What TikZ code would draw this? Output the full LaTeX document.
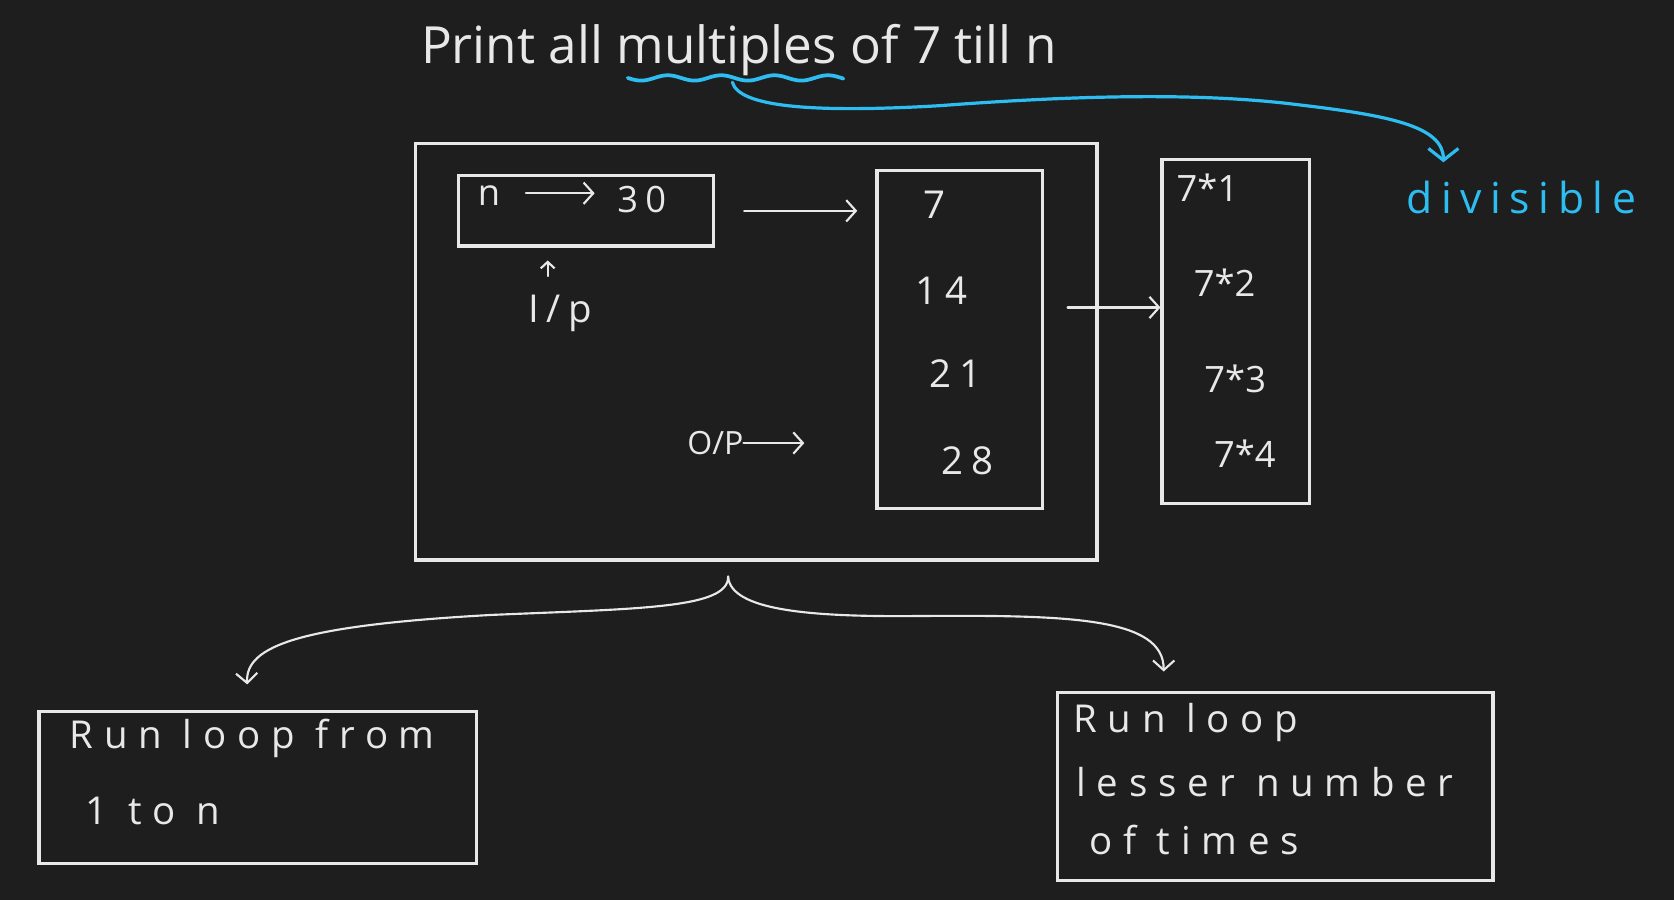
\documentclass[tikz,border=0pt]{standalone}
\usepackage{fontspec}
\setmainfont{Open Sans}
\newfontfamily\hand[LetterSpace=20]{Open Sans}
\newfontfamily\handw[LetterSpace=28]{Open Sans}
\usetikzlibrary{arrows.meta,calc}
\definecolor{bg}{HTML}{1E1E1E}
\definecolor{ink}{HTML}{E8E8E8}
\definecolor{cy}{HTML}{2EBDF0}
\begin{document}
\begin{tikzpicture}[x=1pt,y=-1pt,
  box/.style={draw=ink, line width=3pt, anchor=north west, inner sep=0pt},
  lbl/.style={text=ink, inner sep=0pt},
  big/.style={font=\fontsize{34}{38}\selectfont},
  mid/.style={font=\handw\fontsize{36}{40}\selectfont},
  arr/.style={draw=ink, line width=2pt, line cap=round, -{Straight Barb[length=9pt,width=20pt]}},
  arrsmall/.style={draw=ink, line width=2pt, line cap=round, -{Straight Barb[length=6pt,width=13pt]}},
  cyarr/.style={draw=cy, line width=3pt, line cap=round, -{Straight Barb[length=11pt,width=28pt]}}
]
\fill[bg] (0,0) rectangle (1568,843);
\useasboundingbox (0,0) rectangle (1568,843);

% boxes
\node[box, minimum width=638pt, minimum height=390pt] (outer) at (388,133) {};
\node[box, minimum width=239pt, minimum height=66pt] (inbox) at (428,163) {};
\node[box, minimum width=155pt, minimum height=317pt] (outcol) at (820,158) {};
\node[box, minimum width=138pt, minimum height=322pt] (mulbox) at (1087,148) {};
\node[box, minimum width=410pt, minimum height=142pt] (loopA) at (35,665) {};
\node[box, minimum width=408pt, minimum height=176pt] (loopB) at (989,647) {};

% title
\node[lbl, font=\fontsize{48}{52}\selectfont] (title) at (692,47) {Print all multiples of 7 till n};
\draw[cy, line width=3.5pt, line cap=round] plot[domain=588:790, samples=80] (\x, {73+2.5*sin(7.2*(\x-588))});
\coordinate (u) at (686,77);
\node[lbl, text=cy, font=\hand\fontsize{40}{44}\selectfont] (div) at (1425,185) {divisible};
\coordinate (divtip) at (1352,152);
\draw[cyarr] (u) .. controls (692,100) and (760,106) .. (880,99)
  .. controls (1000,90) and (1120,86) .. (1215,98)
  .. controls (1300,108) and (1352,118) .. (divtip);

% input box content
\node[lbl, big] (nl) at (458,183) {n};
\node[lbl, font=\hand\fontsize{34}{38}\selectfont, anchor=west] (thirty) at (578,187) {30};
\draw[arr] ($(nl.east)+(24,-2)$) -- ($(thirty.west)+(-21,-6)$);
\node[lbl, font=\hand\fontsize{36}{40}\selectfont] (ip) at (525,294) {I/p};
\draw[arrsmall, shorten >=12pt] ($(ip.north)+(-12,-18)$) coordinate (ipa) -- (ipa |- inbox.south);
\draw[arr] ($(inbox.east)+(27,0)$) -- ($(outcol.west |- inbox.east)+(-17,0)$);

% output column
\node[lbl, font=\fontsize{36}{40}\selectfont] (m1) at (875,192) {7};
\node[lbl, font=\hand\fontsize{36}{40}\selectfont] (m2) at (882,272) {14};
\node[lbl, font=\hand\fontsize{36}{40}\selectfont] (m3) at (895,350) {21};
\node[lbl, font=\hand\fontsize{36}{40}\selectfont] (m4) at (906,432) {28};
\node[lbl, font=\fontsize{30}{34}\selectfont] (op) at (670,415) {O/P};
\draw[arr] (op.east) -- ($(op.east)+(57,0)$);
\draw[arr] ($(outcol.east)+(22,-30)$) coordinate (oa) -- (oa -| mulbox.west);

% multiples box
\node[lbl, big] (p1) at (1131,176) {7*1};
\node[lbl, big] (p2) at (1147,265) {7*2};
\node[lbl, big] (p3) at (1157,355) {7*3};
\node[lbl, big] (p4) at (1166,425) {7*4};

% bottom split
\coordinate (split) at (682,540);
\draw[arr] (split) .. controls (683,570) and (600,570) .. (460,576)
  .. controls (280,586) and (230,605) .. ($(loopA.north)+(-10,-24)$);
\draw[arr] (split) .. controls (684,572) and (760,578) .. (860,577)
  .. controls (1000,576) and (1090,578) .. ($(loopB.north west)+(101,-18)$);

% loop boxes text
\node[lbl, mid, anchor=west] (la1) at (65,692) {Run loop from};
\node[lbl, mid, anchor=west] (la2) at (80,760) {1 to n};
\node[lbl, mid, anchor=west] (lb1) at (1005,677) {Run loop};
\node[lbl, mid, anchor=west] (lb2) at (1008,733) {lesser number};
\node[lbl, mid, anchor=west] (lb3) at (1020,787) {of times};
\end{tikzpicture}
\end{document}
